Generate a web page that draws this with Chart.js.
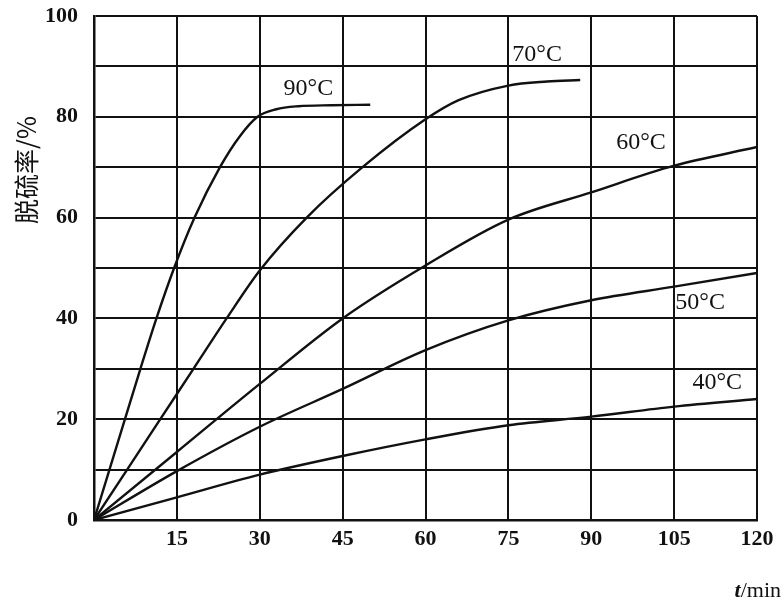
<!DOCTYPE html>
<html>
<head>
<meta charset="utf-8">
<script src="https://cdn.jsdelivr.net/npm/chart.js@4"></script>
<style>
  html, body { margin: 0; padding: 0; background: #ffffff; }
  #wrap { width: 782px; height: 601px; }
</style>
</head>
<body>
<div id="wrap"><canvas id="c" width="782" height="601"></canvas></div>
<script>
// ---- data ----
const t90 = [0, 2.8, 5.6, 8.4, 11.3, 14.5, 18.2, 22.8, 26.3, 29.6, 33, 37, 43, 50];
const v90 = [0, 10, 20, 30, 40, 50, 60, 70, 76, 80, 81.5, 82.1, 82.3, 82.4];
const t70 = [0, 6, 12, 18, 24, 30, 38.5, 48.6, 60, 66, 75, 82, 88];
const v70 = [0, 10, 20, 30, 40, 49.5, 60, 70, 79.5, 83.3, 86.2, 87, 87.3];
const t60 = [0, 15, 30, 45, 60, 75, 90, 105, 120];
const v60 = [0, 13.5, 27, 40, 50.5, 59.6, 65, 70.3, 74];
const t50 = [0, 15, 30, 45, 60, 75, 90, 105, 120];
const v50 = [0, 9.7, 18.5, 26, 33.7, 39.6, 43.6, 46.3, 49];
const t40 = [0, 15, 30, 45, 60, 75, 90, 105, 120];
const v40 = [0, 4.5, 9, 12.7, 16, 18.8, 20.5, 22.5, 24];

const seriesNames = ['90°C', '70°C', '60°C', '50°C', '40°C'];
// label anchor positions (data coordinates: time, rate)
const labelT = [38.8, 80.2, 99, 109.7, 112.8];
const labelV = [85.6, 92.4, 74.8, 43.2, 27.2];

const xTicks = [15, 30, 45, 60, 75, 90, 105, 120];
const yTickLabels = [0, 20, 40, 60, 80, 100];

const yTitle = '脱硫率/%';
const xTitleItalic = 't';
const xTitleRest = '/min';

function pts(ts, vs) { return ts.map((t, i) => ({ x: t, y: vs[i] })); }

const lineStyle = {
  borderColor: '#111',
  borderWidth: 2.4,
  pointRadius: 0,
  fill: false,
  cubicInterpolationMode: 'monotone'
};

const labelPlugin = {
  id: 'labels',
  afterDatasetsDraw(chart) {
    const ctx = chart.ctx;
    const xs = chart.scales.x, ys = chart.scales.y;
    ctx.save();
    ctx.fillStyle = '#111';
    ctx.font = '24px "Liberation Serif"';
    ctx.textAlign = 'center';
    ctx.textBaseline = 'middle';
    seriesNames.forEach((n, i) => {
      ctx.fillText(n, xs.getPixelForValue(labelT[i]), ys.getPixelForValue(labelV[i]));
    });
    // y axis title (vertical, rotated)
    ctx.save();
    ctx.translate(26, 170);
    ctx.rotate(-Math.PI / 2);
    ctx.font = '25px "Noto Sans CJK SC"';
    ctx.textAlign = 'center';
    ctx.textBaseline = 'middle';
    ctx.fillText(yTitle, 0, 0);
    ctx.restore();
    // x axis title
    ctx.textAlign = 'left';
    ctx.textBaseline = 'alphabetic';
    ctx.font = 'bold italic 22px "Liberation Serif"';
    const wt = ctx.measureText(xTitleItalic).width;
    ctx.font = '22px "Liberation Serif"';
    const wr = ctx.measureText(xTitleRest).width;
    const x0 = 781 - wt - wr;
    ctx.font = 'bold italic 22px "Liberation Serif"';
    ctx.fillText(xTitleItalic, x0, 597);
    ctx.font = '22px "Liberation Serif"';
    ctx.fillText(xTitleRest, x0 + wt, 597);
    ctx.restore();
  }
};

new Chart(document.getElementById('c'), {
  type: 'line',
  data: {
    datasets: [
      Object.assign({ label: seriesNames[0], data: pts(t90, v90) }, lineStyle),
      Object.assign({ label: seriesNames[1], data: pts(t70, v70) }, lineStyle),
      Object.assign({ label: seriesNames[2], data: pts(t60, v60) }, lineStyle),
      Object.assign({ label: seriesNames[3], data: pts(t50, v50) }, lineStyle),
      Object.assign({ label: seriesNames[4], data: pts(t40, v40) }, lineStyle)
    ]
  },
  options: {
    responsive: false,
    animation: false,
    devicePixelRatio: 1,
    layout: { padding: { top: 16, right: 25, bottom: 0, left: 0 } },
    plugins: { legend: { display: false }, tooltip: { enabled: false } },
    scales: {
      x: {
        type: 'linear',
        min: 0, max: 120,
        afterFit(s) { s.height = 81; s.paddingLeft = 0; s.paddingRight = 0; },
        afterBuildTicks(s) { s.ticks = [0].concat(xTicks).map(v => ({ value: v })); },
        grid: { color: '#111', lineWidth: 2, drawTicks: false },
        border: { color: '#111', width: 2.5 },
        ticks: {
          color: '#111',
          font: { family: 'Liberation Serif', size: 22, weight: 'bold' },
          padding: 6,
          maxRotation: 0,
          autoSkip: false,
          callback: v => (xTicks.includes(v) ? String(v) : '')
        }
      },
      y: {
        min: 0, max: 100,
        afterFit(s) { s.width = 94; s.paddingTop = 0; s.paddingBottom = 0; },
        grid: { color: '#111', lineWidth: 2, drawTicks: false },
        border: { color: '#111', width: 2.5 },
        ticks: {
          stepSize: 10,
          color: '#111',
          font: { family: 'Liberation Serif', size: 22, weight: 'bold' },
          padding: 16,
          autoSkip: false,
          callback: v => (yTickLabels.includes(v) ? String(v) : '')
        }
      }
    }
  },
  plugins: [labelPlugin]
});
</script>
</body>
</html>
